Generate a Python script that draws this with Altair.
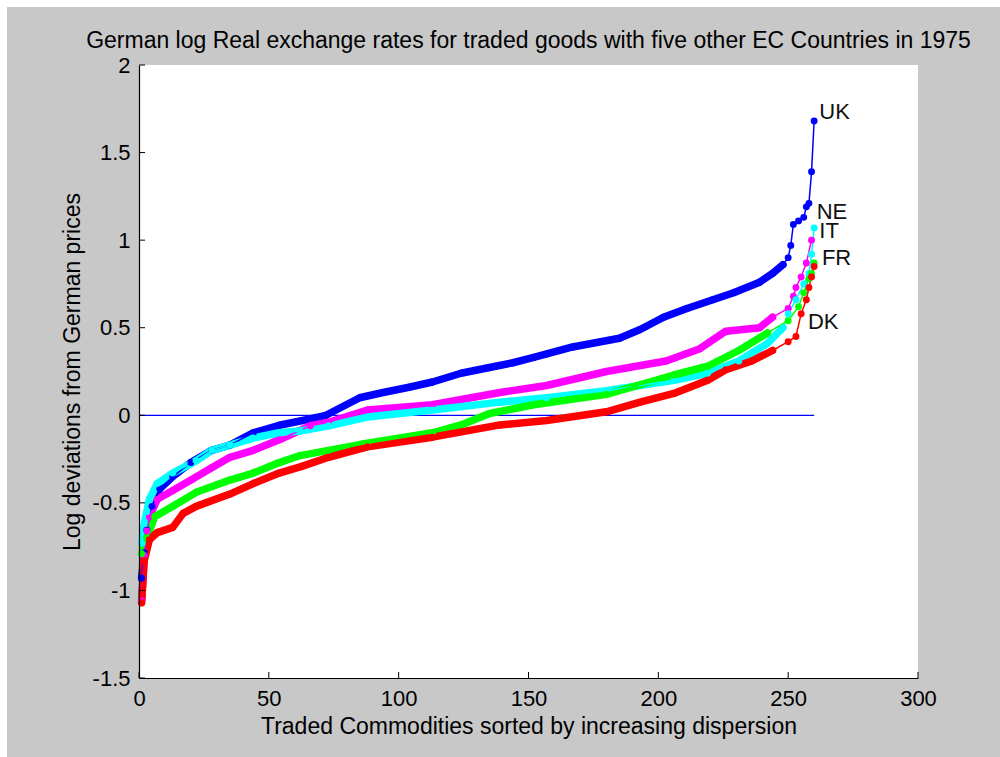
import altair as alt
import pandas as pd

# ---------------- data ----------------
series_names = ["UK", "NE", "IT", "FR", "DK"]
series_colors = ["#0000ff", "#ff00ff", "#00ffff", "#00ff00", "#ff0000"]

uk_x = [1, 2, 3, 5, 8, 13, 20, 28, 35, 44, 54, 63, 72, 85, 94, 104, 113, 124, 134, 144,
        152, 157, 167, 185, 193, 202, 211, 221, 229, 239, 244, 248, 250, 251, 252, 254,
        256, 257, 258, 259, 260]
uk_y = [-0.93, -0.785, -0.655, -0.52, -0.42, -0.35, -0.27, -0.20, -0.17, -0.10, -0.057,
        -0.03, 0.0, 0.10, 0.13, 0.16, 0.19, 0.24, 0.27, 0.30, 0.33, 0.35, 0.39, 0.44, 0.49,
        0.56, 0.61, 0.66, 0.70, 0.76, 0.81, 0.86, 0.90, 0.97, 1.09, 1.11, 1.13, 1.19, 1.21,
        1.39, 1.68]

ne_x = [1, 2, 3, 4, 7, 13, 20, 28, 35, 44, 54, 66, 73, 88, 113, 139, 157, 180, 203, 216,
        226, 239, 244, 250, 252, 253, 255, 257, 259]
ne_y = [-1.06, -0.80, -0.66, -0.58, -0.48, -0.43, -0.37, -0.30, -0.24, -0.20, -0.14, -0.06,
        -0.04, 0.03, 0.06, 0.13, 0.17, 0.25, 0.31, 0.38, 0.48, 0.50, 0.56, 0.61, 0.68, 0.73,
        0.79, 0.87, 1.00]

it_x = [1, 2, 3, 4, 7, 13, 22, 28, 35, 44, 54, 62, 73, 88, 113, 139, 157, 180, 206, 219,
        231, 242, 248, 250, 253, 256, 258, 259, 260]
it_y = [-0.73, -0.62, -0.55, -0.48, -0.39, -0.33, -0.26, -0.20, -0.17, -0.13, -0.10, -0.09,
        -0.06, -0.01, 0.03, 0.075, 0.10, 0.14, 0.20, 0.24, 0.31, 0.41, 0.50, 0.58, 0.66,
        0.75, 0.81, 0.92, 1.07]

fr_x = [1, 3, 6, 13, 22, 35, 44, 54, 62, 73, 88, 113, 125, 135, 152, 180, 206, 219, 231,
        242, 250, 254, 256, 258, 259, 260]
fr_y = [-0.79, -0.70, -0.58, -0.52, -0.44, -0.37, -0.33, -0.27, -0.23, -0.20, -0.16, -0.10,
        -0.05, 0.01, 0.06, 0.12, 0.23, 0.28, 0.37, 0.47, 0.54, 0.62, 0.70, 0.78, 0.81, 0.87]

dk_x = [1, 2, 4, 7, 13, 17, 22, 35, 44, 54, 63, 73, 88, 113, 139, 157, 180, 193, 206, 219,
        226, 236, 244, 250, 253, 255, 257, 258, 259, 260]
dk_y = [-1.07, -0.83, -0.71, -0.67, -0.64, -0.56, -0.52, -0.45, -0.39, -0.33, -0.29, -0.24,
        -0.18, -0.125, -0.055, -0.03, 0.02, 0.075, 0.125, 0.20, 0.26, 0.31, 0.37, 0.42, 0.45,
        0.58, 0.66, 0.73, 0.79, 0.85]

label_text = ["UK", "NE", "IT", "FR", "DK"]
label_x = [262, 261, 262, 263, 257.6]
label_y = [1.73, 1.16, 1.05, 0.90, 0.53]

zero_line_x = [0, 260]
x_ticks = [0, 50, 100, 150, 200, 250, 300]
y_ticks = [-1.5, -1, -0.5, 0, 0.5, 1, 1.5, 2]

title_text = "German log Real exchange rates for traded goods with five other EC Countries in 1975"
x_title = "Traded Commodities sorted by increasing dispersion"
y_title = "Log deviations from German prices"

# ---------------- tables ----------------
rows = []
for name, xs, ys in zip(series_names,
                        [uk_x, ne_x, it_x, fr_x, dk_x],
                        [uk_y, ne_y, it_y, fr_y, dk_y]):
    for x, y in zip(xs, ys):
        rows.append({"series": name, "x": x, "y": y})
df = pd.DataFrame(rows)
df_body = df[df["x"] <= 249]

labels_df = pd.DataFrame({"text": label_text, "x": label_x, "y": label_y})
zero_df = pd.DataFrame({"x": [zero_line_x[0]], "x2": [zero_line_x[1]], "y": [0]})
xt_df = pd.DataFrame({"x": x_ticks})
yt_df = pd.DataFrame({"y": y_ticks})
title_df = pd.DataFrame({"t": [title_text]})
dummy = pd.DataFrame({"a": [0]})

# ---------------- chart ----------------
W, H = 779, 613
FONT = "Liberation Sans"

xscale = alt.Scale(domain=[0, 300], nice=False, zero=False)
yscale = alt.Scale(domain=[-1.5, 2], nice=False, zero=False)

x_axis = alt.Axis(values=x_ticks, title=x_title, grid=False, ticks=False,
                  domainColor="black", labelExpr="datum.value + ''", labelFlush=False,
                  labelOverlap=False, labelPadding=10, titlePadding=6, zindex=1)
y_axis = alt.Axis(values=y_ticks, title=y_title, grid=False, ticks=False,
                  domainColor="black", labelExpr="datum.value + ''", labelFlush=False,
                  labelOverlap=False, labelPadding=9, titlePadding=8, zindex=1)

X = alt.X("x:Q", scale=xscale, axis=x_axis)
Y = alt.Y("y:Q", scale=yscale, axis=y_axis)
color = alt.Color("series:N", scale=alt.Scale(domain=series_names, range=series_colors),
                  legend=None)

bg = alt.Chart(dummy).mark_rect(color="#c8c8c8").encode(
    x=alt.value(-132), x2=alt.value(W + 82), y=alt.value(-58), y2=alt.value(H + 79))
plot_bg = alt.Chart(dummy).mark_rect(color="white").encode(
    x=alt.value(0), x2=alt.value(W), y=alt.value(0), y2=alt.value(H))

title_mark = alt.Chart(title_df).mark_text(
    align="center", baseline="alphabetic", fontSize=23, font=FONT, color="black"
).encode(x=alt.value(W / 2), y=alt.value(-17), text="t:N")

zero_line = alt.Chart(zero_df).mark_rule(color="#0000ff", strokeWidth=1.2).encode(
    x=X, x2="x2:Q", y=Y)

thick = alt.Chart(df_body).mark_line(strokeWidth=7.5, strokeJoin="round",
                                     strokeCap="round").encode(x=X, y=Y, color=color)
thin = alt.Chart(df).mark_line(strokeWidth=1.5).encode(x=X, y=Y, color=color)
dots = alt.Chart(df).mark_circle(size=48, opacity=1).encode(x=X, y=Y, color=color)

xticks = alt.Chart(xt_df).mark_rule(color="black", strokeWidth=1).encode(
    x=X, y=alt.value(H), y2=alt.value(H - 6))
yticks = alt.Chart(yt_df).mark_rule(color="black", strokeWidth=1).encode(
    y=Y, x=alt.value(0), x2=alt.value(6))

labels = alt.Chart(labels_df).mark_text(align="left", baseline="middle", fontSize=22,
                                        font=FONT, color="#111111").encode(
    x=X, y=Y, text="text:N")

chart = alt.layer(bg, plot_bg, title_mark, zero_line, thick, thin, dots, xticks, yticks,
                  labels).properties(
    width=W, height=H,
    background="white",
    padding={"left": 7, "top": 7, "right": 0, "bottom": 0},
).configure_view(stroke=None).configure_axis(
    labelFont=FONT, labelFontSize=22, labelColor="black",
    titleFont=FONT, titleFontSize=23, titleFontWeight="normal", titleColor="black",
    domainWidth=1.2,
)

chart.save("out.html", embed_options={"renderer": "svg", "actions": False})
